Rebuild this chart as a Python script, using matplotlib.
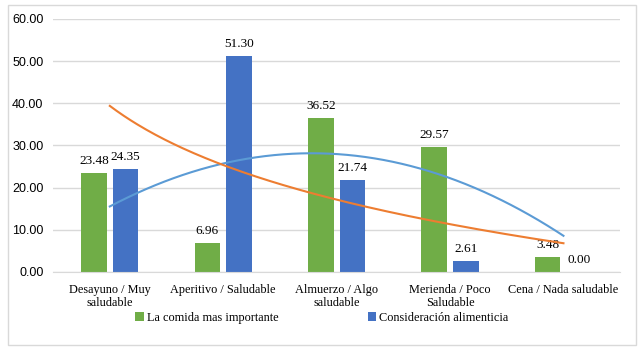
import numpy as np
import matplotlib.pyplot as plt
from matplotlib.patches import Rectangle

# Data
categories = ['Desayuno / Muy\nsaludable', 'Aperitivo / Saludable', 'Almuerzo / Algo\nsaludable',
              'Merienda / Poco\nSaludable', 'Cena / Nada saludable']
comida = [23.48, 6.96, 36.52, 29.57, 3.48]
consideracion = [24.35, 51.30, 21.74, 2.61, 0.00]

green = '#70AD47'
blue = '#4472C4'
orange = '#ED7D31'
lightblue = '#5B9BD5'
serif = 'Liberation Serif'

fig = plt.figure(figsize=(6.4, 3.5), dpi=100)
ax = fig.add_axes([0.083, 0.223, 0.886, 0.723])

x = np.arange(1, len(categories) + 1)
w = 0.225
b1 = ax.bar(x - 0.14, comida, w, color=green, label='La comida mas importante', zorder=2)
b2 = ax.bar(x + 0.14, consideracion, w, color=blue, label='Consideración alimenticia', zorder=2)

for bars, vals in [(b1, comida), (b2, consideracion)]:
    for bar, v in zip(bars, vals):
        ax.text(bar.get_x() + bar.get_width() / 2, v + 1.4, f'{v:.2f}',
                ha='center', va='bottom', fontsize=9.5, family=serif)

# trend lines (Excel style): polynomial order 2 on the green series, log on the blue one
xs = np.linspace(1, 5, 200)
poly = np.polyfit(x, comida, 2)
ax.plot(xs, np.polyval(poly, xs), color=lightblue, lw=1.5, zorder=3)
lcoef = np.polyfit(np.log(x), consideracion, 1)
ax.plot(xs, np.polyval(lcoef, np.log(xs)), color=orange, lw=1.5, zorder=3)

ax.set_xlim(0.5, 5.5)
ax.set_ylim(0, 60)
ax.set_yticks(np.arange(0, 61, 10))
ax.set_yticklabels([f'{v:.2f}' for v in np.arange(0, 61, 10)], family='Liberation Sans', fontsize=9)
ax.set_xticks(x)
ax.set_xticklabels(categories, family=serif, fontsize=8.8, linespacing=1.05)
ax.tick_params(length=0, pad=7)
ax.tick_params(axis='x', pad=9)
ax.yaxis.grid(True, color='#d9d9d9', lw=1, zorder=0)
for s in ['top', 'right', 'left']:
    ax.spines[s].set_visible(False)
ax.spines['bottom'].set_color('#d9d9d9')

leg = fig.legend(handles=[b1, b2], loc='center', bbox_to_anchor=(0.503, 0.092), ncol=2,
                 frameon=False, prop={'family': serif, 'size': 8.8}, handlelength=0.7,
                 handleheight=0.7, handletextpad=0.25, columnspacing=7.3)

fig.patches.append(Rectangle((8 / 640, 5 / 350), 628 / 640, 340 / 350, transform=fig.transFigure,
                             fill=False, edgecolor='#d9d9d9', lw=1))

fig.savefig('out.png', dpi=100)
